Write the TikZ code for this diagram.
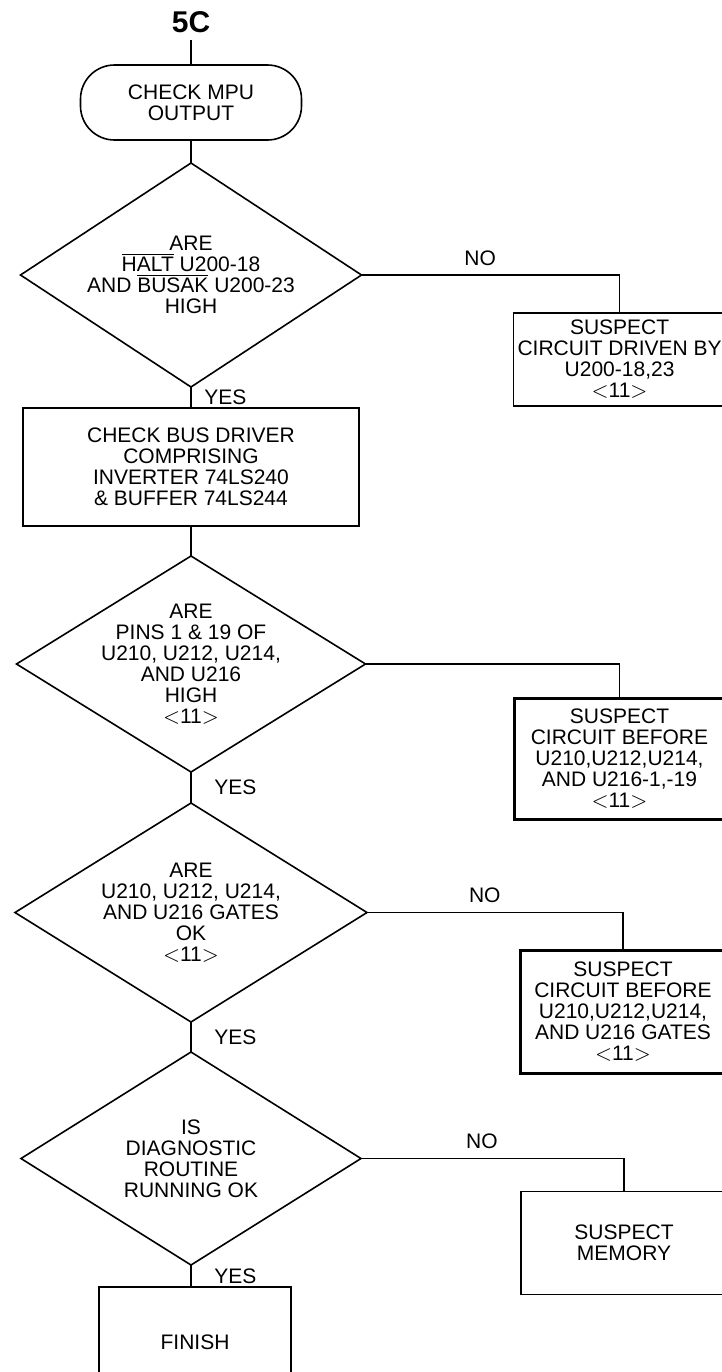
\documentclass[tikz,border=0pt]{standalone}
\usepackage{fontspec}
\setmainfont{Liberation Sans}
\usepackage{tikz}
\usetikzlibrary{shapes.geometric, positioning}
\tikzset{
  basebox/.style={rectangle, draw=black, line width=0.8pt, outer sep=0pt,
                  align=center, font=\fontsize{10.5}{10.5}\selectfont},
  termnode/.style={basebox, rounded corners=17pt, minimum width=110.5pt,
                   minimum height=37.5pt},
  actnode/.style={basebox, inner sep=2pt},
  suspnode/.style={basebox, inner sep=2pt},
  boldsusp/.style={suspnode, line width=1.5pt},
  decisionnode/.style={basebox, diamond, inner sep=-20pt},
  link/.style={draw=black, line width=0.8pt},
  lbl/.style={font=\fontsize{10.5}{10.5}\selectfont}
}

\begin{document}
\begin{tikzpicture}
  \useasboundingbox (0,0) rectangle (361pt,-686pt);

  % ── Entry ──
  \node[termnode] (mpuchk) at (95.5pt,-51.25pt) {CHECK MPU\\OUTPUT};
  \node[font=\fontsize{15}{15}\selectfont\bfseries, inner sep=3.5pt,
        above=12.5pt of mpuchk] (entry5c) {5C};

  % ── Main column ──
  \node[decisionnode, minimum width=170.5pt, minimum height=112pt,
        below=11.5pt of mpuchk] (haltq)
      {ARE\\$\overline{\mbox{HALT}}$ U200-18\\AND $\overline{\mbox{BUSAK}}$ U200-23\\HIGH};
  \node[actnode, minimum width=168pt, minimum height=59pt,
        below=10.5pt of haltq] (busdrv)
      {CHECK BUS DRIVER\\COMPRISING\\INVERTER 74LS240\\\& BUFFER 74LS244};
  \node[decisionnode, minimum width=174.5pt, minimum height=108pt,
        below=15pt of busdrv] (pinsq)
      {ARE\\PINS 1 \& 19 OF\\U210, U212, U214,\\AND U216\\HIGH\\$<$11$>$};
  \node[decisionnode, minimum width=176pt, minimum height=109.5pt,
        below=15.5pt of pinsq] (gatesq)
      {ARE\\U210, U212, U214,\\AND U216 GATES\\OK\\$<$11$>$};
  \node[decisionnode, minimum width=170pt, minimum height=106.5pt,
        below=15pt of gatesq] (diagq)
      {IS\\DIAGNOSTIC\\ROUTINE\\RUNNING OK};
  \node[actnode, minimum width=96pt, minimum height=55pt,
        below=11pt of diagq, xshift=2pt] (finish) {FINISH};

  % ── Suspects ──
  \node[suspnode, minimum width=106pt, minimum height=46.5pt,
        below right=19pt and 76pt of haltq.east] (haltout)
      {SUSPECT\\CIRCUIT DRIVEN BY\\U200-18,23\\$<$11$>$};
  \node[boldsusp, minimum width=105pt, minimum height=60.5pt,
        below right=17pt and 74.5pt of pinsq.east] (pinsout)
      {SUSPECT\\CIRCUIT BEFORE\\U210,U212,U214,\\AND U216-1,-19\\$<$11$>$};
  \node[boldsusp, minimum width=103pt, minimum height=61.5pt,
        below right=19pt and 76.5pt of gatesq.east] (gatesout)
      {SUSPECT\\CIRCUIT BEFORE\\U210,U212,U214,\\AND U216 GATES\\$<$11$>$};
  \node[suspnode, minimum width=103pt, minimum height=51.5pt,
        below right=16.5pt and 80pt of diagq.east] (memout)
      {SUSPECT\\MEMORY};

  % ── LINKS ──
  \draw[link] (entry5c.south) -- (mpuchk.north);
  \draw[link] (mpuchk.south) -- (haltq.north);
  \draw[link] (haltq.south) -- (busdrv.north)
      node[midway, right=3pt, lbl]{YES};
  \draw[link] (haltq.east) -| (haltout.north)
      node[pos=0.23, above=1pt, lbl]{NO};
  \draw[link] (busdrv.south) -- (pinsq.north);
  \draw[link] (pinsq.south) -- (gatesq.north)
      node[midway, right=8pt, lbl]{YES};
  \draw[link] (pinsq.east) -| (pinsout.north);
  \draw[link] (gatesq.south) -- (diagq.north)
      node[midway, right=8pt, lbl]{YES};
  \draw[link] (gatesq.east) -| (gatesout.north)
      node[pos=0.23, above=1pt, lbl]{NO};
  \draw[link] (diagq.south) -- (finish.north -| diagq.south)
      node[midway, right=8pt, lbl]{YES};
  \draw[link] (diagq.east) -| (memout.north)
      node[pos=0.23, above=1pt, lbl]{NO};

\end{tikzpicture}
\end{document}
